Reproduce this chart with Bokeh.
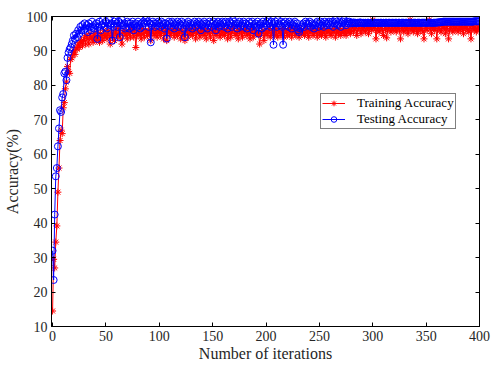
from bokeh.plotting import figure
from bokeh.models import LinearAxis, Legend, LegendItem, Range1d, FixedTicker
from bokeh.embed import file_html
from bokeh.resources import INLINE

iterations = list(range(0, 401))

train_acc = [
    14.5, 29.5, 27.0, 34.5, 39.2, 49.0, 56.0, 64.0, 67.0, 66.0, 73.5, 75.0, 79.0, 81.0, 85.5, 84.0, 83.5, 87.5, 88.0, 89.0,
    90.0, 89.0, 91.0, 90.5, 92.0, 91.0, 92.5, 93.0, 91.5, 93.0, 94.0, 92.0, 94.5, 93.5, 92.0, 95.0, 93.5, 94.0, 92.5, 95.0,
    94.0, 93.0, 95.5, 94.0, 92.5, 95.0, 94.5, 93.0, 96.0, 94.0, 95.0, 93.5, 96.0, 94.5, 92.0, 95.5, 94.0, 95.0, 93.0, 96.0,
    95.0, 94.0, 96.5, 95.0, 93.5, 92.0, 95.5, 96.0, 94.5, 95.0, 93.5, 96.0, 95.0, 94.0, 96.5, 95.5, 94.0, 96.0, 91.0, 95.0,
    94.5, 96.0, 95.0, 93.5, 96.5, 95.0, 94.0, 96.0, 95.5, 94.5, 96.0, 95.0, 93.0, 95.5, 96.5, 94.5, 95.0, 96.0, 94.0, 95.5,
    96.0, 94.5, 95.5, 96.5, 93.5, 95.0, 96.0, 93.0, 95.5, 96.5, 94.5, 95.0, 96.0, 95.5, 94.0, 96.5, 95.0, 94.5, 96.0, 95.5,
    93.5, 96.0, 95.0, 94.5, 93.0, 96.5, 95.5, 94.0, 96.0, 95.0, 96.5, 94.5, 95.5, 96.0, 93.5, 95.0, 96.5, 95.5, 94.0, 96.0,
    95.0, 96.5, 94.5, 96.0, 93.5, 95.5, 96.0, 95.0, 94.0, 96.5, 95.5, 93.0, 96.0, 95.0, 94.5, 96.5, 95.5, 94.0, 96.0, 95.0,
    96.5, 94.5, 95.5, 96.0, 93.5, 95.0, 96.5, 94.0, 95.5, 96.0, 97.0, 95.0, 94.5, 96.0, 93.5, 95.5, 96.5, 95.0, 94.0, 96.0,
    95.5, 96.5, 94.5, 95.0, 96.0, 93.5, 95.5, 96.5, 94.0, 95.0, 96.0, 95.5, 95.0, 95.0, 92.0, 94.5, 95.5, 96.0, 93.0, 95.0,
    96.0, 94.5, 95.5, 96.5, 94.0, 95.0, 96.0, 95.5, 94.5, 96.5, 95.0, 94.0, 96.0, 95.5, 94.5, 96.5, 95.0, 94.0, 96.0, 95.5,
    94.5, 96.5, 95.0, 96.0, 94.0, 95.5, 96.5, 95.0, 94.5, 96.0, 95.5, 94.0, 96.5, 95.0, 95.5, 96.0, 94.5, 95.5, 96.5, 95.0,
    94.0, 96.0, 95.5, 96.5, 94.5, 95.0, 96.0, 95.5, 94.0, 96.5, 95.0, 96.0, 94.5, 95.5, 96.5, 95.0, 94.0, 96.0, 95.5, 96.5,
    95.0, 94.5, 96.0, 95.5, 96.5, 94.0, 95.5, 96.0, 95.0, 96.5, 94.5, 95.5, 96.0, 95.0, 96.5, 94.5, 96.0, 95.5, 96.5, 95.0,
    96.0, 97.5, 95.5, 96.5, 97.0, 94.5, 96.0, 97.5, 96.5, 95.0, 97.0, 96.0, 97.5, 95.5, 96.5, 97.0, 95.0, 96.5, 97.5, 96.0,
    99.0, 96.5, 97.0, 93.5, 96.0, 97.5, 95.5, 96.5, 97.0, 96.0, 94.5, 97.5, 96.5, 93.8, 96.0, 97.0, 96.5, 95.5, 97.5, 96.0,
    96.5, 97.0, 95.5, 96.5, 97.5, 96.0, 93.5, 97.0, 96.5, 95.5, 97.5, 96.0, 97.0, 95.0, 96.5, 99.0, 96.0, 97.0, 95.5, 96.5,
    97.5, 96.0, 95.0, 96.5, 97.0, 96.0, 97.5, 95.5, 93.5, 96.5, 97.0, 96.0, 97.5, 99.0, 96.5, 95.0, 97.0, 96.5, 96.0, 97.5,
    93.5, 96.5, 97.0, 96.0, 95.5, 97.5, 96.5, 97.0, 95.0, 96.5, 97.5, 93.5, 96.0, 97.0, 96.5, 95.5, 97.5, 96.0, 97.0, 96.5,
    95.5, 97.5, 96.0, 97.0, 96.5, 95.0, 97.5, 96.5, 97.0, 96.0, 95.5, 97.0, 93.5, 96.5, 97.5, 96.0, 97.0, 95.5, 96.5, 97.0,
    96.0,
]

test_acc = [
    32.0, 23.5, 42.5, 53.6, 56.0, 62.3, 67.5, 72.8, 72.3, 76.5, 77.5, 83.5, 84.0, 81.5, 88.0, 89.5, 90.5, 91.0, 92.0, 93.0,
    94.5, 93.5, 95.0, 94.0, 96.0, 95.0, 97.0, 96.0, 97.5, 96.0, 98.0, 96.5, 97.5, 95.5, 98.0, 97.0, 96.0, 98.5, 97.0, 96.5,
    97.5, 98.0, 93.5, 97.0, 98.5, 96.0, 97.5, 99.0, 98.0, 97.0, 98.5, 96.5, 98.0, 99.0, 97.5, 98.0, 93.0, 97.0, 98.5, 99.0,
    98.0, 97.0, 98.5, 94.0, 98.0, 99.0, 97.5, 98.0, 96.5, 97.0, 98.5, 98.0, 96.5, 98.0, 97.0, 98.5, 96.0, 97.5, 98.0, 97.0,
    98.5, 97.5, 96.5, 98.0, 97.0, 98.5, 98.0, 99.0, 99.5, 98.5, 97.0, 98.0, 92.5, 97.5, 98.5, 98.0, 97.0, 98.0, 97.5, 98.5,
    98.0, 97.0, 98.5, 97.5, 98.0, 96.5, 98.0, 93.6, 97.5, 98.5, 98.0, 97.0, 98.5, 98.0, 96.5, 97.5, 98.0, 98.5, 97.0, 98.0,
    97.5, 98.5, 98.0, 96.5, 94.0, 97.5, 98.0, 98.5, 97.0, 98.0, 97.5, 96.5, 98.0, 98.5, 97.0, 98.0, 97.5, 98.5, 98.0, 96.0,
    97.5, 98.0, 98.5, 97.0, 98.0, 96.5, 97.5, 98.5, 98.0, 97.0, 98.0, 98.5, 97.5, 96.0, 98.0, 98.5, 97.0, 98.0, 97.5, 98.5,
    98.0, 97.0, 98.5, 98.0, 96.5, 97.5, 98.5, 98.0, 97.0, 99.0, 98.5, 97.5, 98.0, 96.5, 98.0, 98.5, 97.0, 97.5, 98.0, 98.5,
    97.0, 98.0, 96.5, 97.5, 98.5, 98.0, 97.0, 98.5, 96.0, 97.5, 98.0, 97.0, 98.5, 95.0, 97.5, 98.0, 96.5, 98.5, 97.0, 98.0,
    97.5, 98.5, 99.0, 98.0, 97.0, 98.5, 97.5, 91.8, 98.0, 98.5, 97.0, 99.0, 98.0, 97.5, 98.5, 97.0, 91.8, 98.0, 98.5, 97.5,
    98.0, 97.0, 98.5, 98.0, 96.5, 97.5, 98.0, 98.5, 97.0, 98.0, 96.0, 95.5, 96.5, 97.0, 97.5, 98.0, 97.0, 98.5, 98.0, 97.5,
    98.0, 98.5, 97.0, 98.0, 97.5, 96.5, 97.5, 98.0, 98.5, 97.0, 98.0, 98.5, 97.5, 98.0, 97.0, 98.5, 98.0, 97.5, 98.0, 98.5,
    97.5, 98.0, 98.5, 97.0, 98.0, 99.0, 98.5, 97.5, 98.0, 98.5, 97.0, 98.0, 98.5, 99.0, 98.0, 97.5, 98.5, 98.0, 98.5, 98.0,
    98.2, 98.0, 98.3, 98.1, 98.2, 98.0, 98.2, 98.1, 98.3, 98.2, 98.1, 98.2, 98.0, 98.2, 98.1, 98.2, 98.2, 98.1, 98.2, 98.1,
    98.2, 98.1, 98.2, 98.2, 98.1, 98.2, 98.1, 98.2, 98.2, 98.1, 98.2, 98.1, 98.2, 98.2, 98.1, 98.2, 98.2, 98.1, 98.2, 98.2,
    98.1, 98.2, 98.2, 98.1, 98.2, 98.2, 98.1, 98.2, 98.2, 98.2, 98.1, 98.2, 98.2, 98.1, 98.2, 98.2, 98.2, 98.1, 98.2, 98.2,
    98.2, 98.1, 98.2, 98.2, 98.2, 98.1, 98.2, 98.2, 98.2, 98.2, 98.1, 98.2, 98.2, 98.2, 98.2, 98.2, 98.1, 98.2, 98.2, 98.2,
    98.2, 98.3, 98.3, 98.3, 98.4, 98.4, 98.5, 98.5, 98.5, 98.5, 98.5, 98.5, 98.5, 98.5, 98.5, 98.5, 98.5, 98.5, 98.5, 98.5,
    98.5, 98.5, 98.5, 98.5, 98.5, 98.5, 98.5, 98.5, 98.5, 98.5, 98.5, 98.5, 98.5, 98.5, 98.5, 98.6, 98.6, 98.6, 98.6, 98.6,
    98.6,
]

x_ticks = [0, 50, 100, 150, 200, 250, 300, 350, 400]
y_ticks = [10, 20, 30, 40, 50, 60, 70, 80, 90, 100]

FONT = "Liberation Serif"
TXT = "#262626"

p = figure(width=495, height=365, output_backend="svg", toolbar_location=None,
           x_range=Range1d(-1, 400), y_range=Range1d(10, 100),
           min_border_left=49, min_border_right=16, min_border_top=16, min_border_bottom=39)
p.grid.visible = False
p.outline_line_color = "#000000"
p.outline_line_width = 1

def style_axis(ax):
    ax.axis_line_color = "#000000"
    ax.major_tick_line_color = "#000000"
    ax.major_tick_in = 4
    ax.major_tick_out = 0
    ax.minor_tick_line_color = None
    ax.major_label_text_font = FONT
    ax.major_label_text_font_size = "14px"
    ax.major_label_text_color = TXT
    ax.axis_label_text_font = FONT
    ax.axis_label_text_font_size = "16px"
    ax.axis_label_text_font_style = "normal"
    ax.axis_label_text_color = TXT

p.xaxis.ticker = FixedTicker(ticks=x_ticks)
p.yaxis.ticker = FixedTicker(ticks=y_ticks)
p.xaxis.axis_label = "Number of iterations"
p.yaxis.axis_label = "Accuracy(%)"
style_axis(p.xaxis[0])
style_axis(p.yaxis[0])
p.xaxis.major_label_standoff = 4
p.xaxis.axis_label_standoff = 1
p.yaxis.major_label_standoff = 4
p.yaxis.axis_label_standoff = 3

top_ax = LinearAxis(ticker=FixedTicker(ticks=x_ticks))
style_axis(top_ax)
top_ax.major_label_overrides = {t: "" for t in x_ticks}
top_ax.major_label_standoff = 0
p.add_layout(top_ax, "above")
right_ax = LinearAxis(ticker=FixedTicker(ticks=y_ticks))
style_axis(right_ax)
right_ax.major_label_overrides = {t: "" for t in y_ticks}
right_ax.major_label_standoff = 0
p.add_layout(right_ax, "right")

rl = p.line(iterations, train_acc, line_color="#FF0000", line_width=1)
rs = p.scatter(iterations, train_acc, marker="asterisk", size=7, line_color="#FF0000", line_width=1)
bl = p.line(iterations, test_acc, line_color="#0000FF", line_width=1)
bs = p.scatter(iterations, test_acc, marker="circle", size=7, line_color="#0000FF",
               fill_color=None, line_width=1)

legend = Legend(items=[
    LegendItem(label="Training Accuracy", renderers=[rl, rs]),
    LegendItem(label="Testing Accuracy", renderers=[bl, bs]),
], location=(269, 197))
legend.label_text_font = FONT
legend.label_text_font_size = "13px"
legend.label_text_color = "#000000"
legend.border_line_color = "#000000"
legend.border_line_width = 1
legend.background_fill_color = "#FFFFFF"
legend.background_fill_alpha = 1
legend.glyph_width = 23
legend.glyph_height = 14
legend.label_height = 14
legend.label_standoff = 12
legend.padding = 1
legend.spacing = 0
legend.margin = 0
p.add_layout(legend)

open("out.html", "w").write(file_html(p, INLINE))
